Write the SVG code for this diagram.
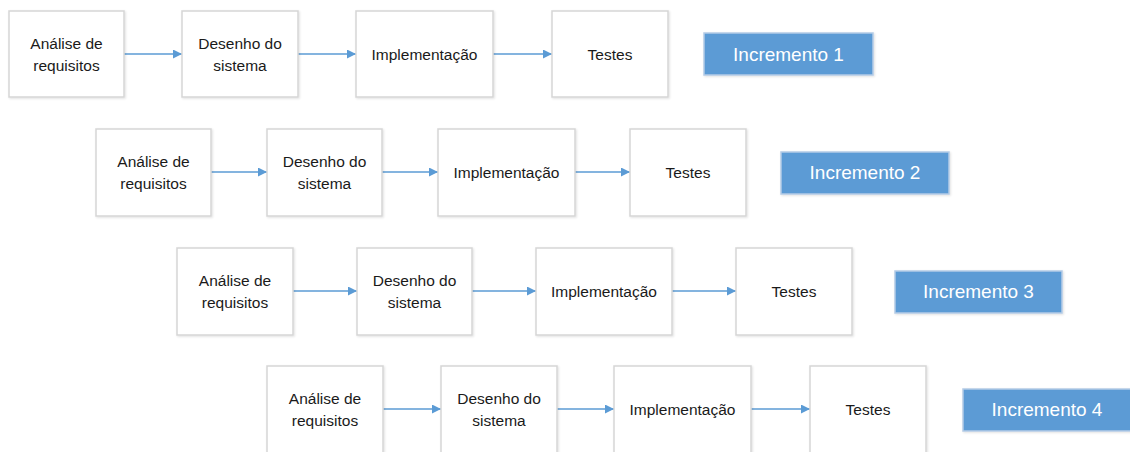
<svg xmlns="http://www.w3.org/2000/svg" width="1130" height="452" viewBox="0 0 1130 452">
<defs>
<marker id="arr" viewBox="0 0 10 10" refX="10" refY="5" markerWidth="9" markerHeight="9" markerUnits="userSpaceOnUse" orient="auto">
<path d="M0,0 L10,5 L0,10 Z" fill="#5b9bd5"/>
</marker>
<filter id="sh" x="-5%" y="-5%" width="115%" height="115%">
<feDropShadow dx="1" dy="1" stdDeviation="1" flood-color="#000" flood-opacity="0.12"/>
</filter>
</defs>
<style>
.box{fill:#fff;stroke:#d6d6d6;stroke-width:1.5;filter:url(#sh)}
.inc{fill:#5b9bd5;stroke:#b4cbe6;stroke-width:1.5;filter:url(#sh)}
.t{font-family:"Liberation Sans",Arial,sans-serif;font-size:15.5px;fill:#1a1a1a;text-anchor:middle;dominant-baseline:central}
.ti{font-family:"Liberation Sans",Arial,sans-serif;font-size:19px;fill:#fff;text-anchor:middle;dominant-baseline:central}
.c{stroke:#5b9bd5;stroke-width:1.3;fill:none;marker-end:url(#arr)}
</style>
<rect width="1130" height="452" fill="#fff"/>

<g id="connectors">
<line class="c" x1="124" y1="54" x2="182" y2="54"/>
<line class="c" x1="298" y1="54" x2="356" y2="54"/>
<line class="c" x1="493" y1="54" x2="552" y2="54"/>

<line class="c" x1="211" y1="172" x2="267" y2="172"/>
<line class="c" x1="382" y1="172" x2="438" y2="172"/>
<line class="c" x1="575" y1="172" x2="630" y2="172"/>

<line class="c" x1="293" y1="291" x2="357" y2="291"/>
<line class="c" x1="472" y1="291" x2="536" y2="291"/>
<line class="c" x1="672" y1="291" x2="736" y2="291"/>

<line class="c" x1="383" y1="409" x2="441" y2="409"/>
<line class="c" x1="557" y1="409" x2="614" y2="409"/>
<line class="c" x1="751" y1="409" x2="810" y2="409"/>
</g>

<!-- Row 1 -->
<g id="r1-analise"><rect class="box" x="9" y="11" width="115" height="86"/><text class="t" x="66.5" y="43">Análise de</text><text class="t" x="66.5" y="65">requisitos</text></g>
<g id="r1-desenho"><rect class="box" x="182" y="11" width="116" height="86"/><text class="t" x="240" y="43">Desenho do</text><text class="t" x="240" y="65">sistema</text></g>
<g id="r1-impl"><rect class="box" x="356" y="11" width="137" height="86"/><text class="t" x="424.5" y="54">Implementação</text></g>
<g id="r1-testes"><rect class="box" x="552" y="11" width="116" height="86"/><text class="t" x="610" y="54">Testes</text></g>
<g id="r1-inc"><rect class="inc" x="704" y="33" width="169" height="42"/><text class="ti" x="788.5" y="54">Incremento 1</text></g>

<!-- Row 2 -->
<g id="r2-analise"><rect class="box" x="96" y="129" width="115" height="87"/><text class="t" x="153.5" y="161">Análise de</text><text class="t" x="153.5" y="183">requisitos</text></g>
<g id="r2-desenho"><rect class="box" x="267" y="129" width="115" height="87"/><text class="t" x="324.5" y="161">Desenho do</text><text class="t" x="324.5" y="183">sistema</text></g>
<g id="r2-impl"><rect class="box" x="438" y="129" width="137" height="87"/><text class="t" x="506.5" y="172">Implementação</text></g>
<g id="r2-testes"><rect class="box" x="630" y="129" width="116" height="87"/><text class="t" x="688" y="172">Testes</text></g>
<g id="r2-inc"><rect class="inc" x="781" y="152" width="168" height="42"/><text class="ti" x="865" y="172">Incremento 2</text></g>

<!-- Row 3 -->
<g id="r3-analise"><rect class="box" x="177" y="248" width="116" height="87"/><text class="t" x="235" y="280">Análise de</text><text class="t" x="235" y="302">requisitos</text></g>
<g id="r3-desenho"><rect class="box" x="357" y="248" width="115" height="87"/><text class="t" x="414.5" y="280">Desenho do</text><text class="t" x="414.5" y="302">sistema</text></g>
<g id="r3-impl"><rect class="box" x="536" y="248" width="136" height="87"/><text class="t" x="604" y="291">Implementação</text></g>
<g id="r3-testes"><rect class="box" x="736" y="248" width="116" height="87"/><text class="t" x="794" y="291">Testes</text></g>
<g id="r3-inc"><rect class="inc" x="895" y="271" width="167" height="42"/><text class="ti" x="978.5" y="291">Incremento 3</text></g>

<!-- Row 4 -->
<g id="r4-analise"><rect class="box" x="267" y="366" width="116" height="90"/><text class="t" x="325" y="398">Análise de</text><text class="t" x="325" y="420">requisitos</text></g>
<g id="r4-desenho"><rect class="box" x="441" y="366" width="116" height="90"/><text class="t" x="499" y="398">Desenho do</text><text class="t" x="499" y="420">sistema</text></g>
<g id="r4-impl"><rect class="box" x="614" y="366" width="137" height="90"/><text class="t" x="682.5" y="409">Implementação</text></g>
<g id="r4-testes"><rect class="box" x="810" y="366" width="116" height="90"/><text class="t" x="868" y="409">Testes</text></g>
<g id="r4-inc"><rect class="inc" x="963" y="389" width="168" height="42"/><text class="ti" x="1047" y="409">Incremento 4</text></g>
</svg>
